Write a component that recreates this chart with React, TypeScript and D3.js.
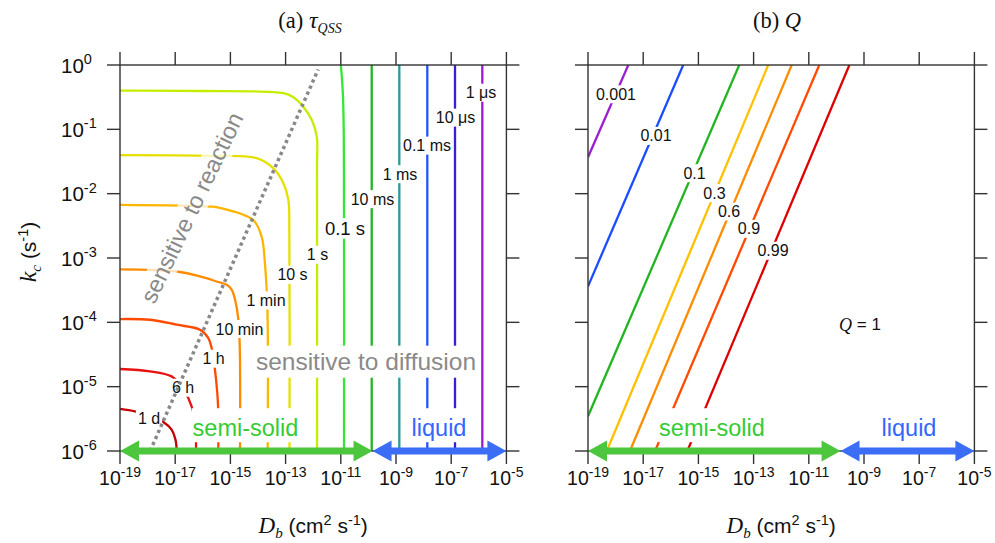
import React from "react";
import * as d3 from "d3";

// ---------- axes ----------
const xTickExps = [-19, -17, -15, -13, -11, -9, -7, -5];
const yTickExps = [0, -1, -2, -3, -4, -5, -6];

// ---------- panel (a): tau_QSS contours, points [log10 Db, log10 kc] ----------
const tau1d = [[-19, -5.346], [-18.46, -5.384], [-17.95, -5.45], [-17.43, -5.548], [-17.13, -5.668], [-16.99, -5.823], [-16.946, -6]];
const tau6h = [[-19, -4.725], [-17.91, -4.762], [-17.13, -4.84], [-16.83, -4.969], [-16.525, -5.176], [-16.31, -5.461], [-16.25, -5.8], [-16.246, -6]];
const tau1h = [[-19, -3.949], [-17.91, -3.96], [-16.95, -4.037], [-16.1, -4.115], [-15.8, -4.244], [-15.68, -4.399], [-15.56, -4.736], [-15.475, -5.098], [-15.44, -5.384], [-15.44, -6]];
const tau10min = [[-19, -3.176], [-16.94, -3.21], [-16.1, -3.287], [-15.5, -3.365], [-15.13, -3.416], [-14.95, -3.494], [-14.83, -3.649], [-14.71, -3.96], [-14.66, -4.4], [-14.652, -6]];
const tau1min = [[-19, -2.174], [-15.74, -2.2], [-15.38, -2.22], [-14.18, -2.407], [-13.87, -2.666], [-13.75, -3.079], [-13.66, -3.8], [-13.649, -6]];
const tau10s = [[-19, -1.402], [-15.74, -1.413], [-14.05, -1.449], [-13.45, -1.604], [-13.08, -1.837], [-12.9, -2.096], [-12.865, -2.6], [-12.859, -6]];
const tau1s = [[-19, -0.399], [-16.1, -0.404], [-13.08, -0.439], [-12.73, -0.497], [-12.36, -0.648], [-12.05, -0.854], [-11.87, -1.113], [-11.862, -1.6], [-11.86, -6]];
const tau01s = [[-11.0, 0], [-10.96, -0.2], [-10.92, -0.5], [-10.895, -1.0], [-10.885, -1.8], [-10.884, -6]];
const tau10ms = [[-9.88, 0], [-9.88, -6]];
const tau1ms = [[-8.88, 0], [-8.88, -6]];
const tau01ms = [[-7.866, 0], [-7.866, -6]];
const tau10us = [[-6.862, 0], [-6.862, -6]];
const tau1us = [[-5.873, 0], [-5.873, -6]];

const tauContours = [tau1d, tau6h, tau1h, tau10min, tau1min, tau10s, tau1s, tau01s, tau10ms, tau1ms, tau01ms, tau10us, tau1us];
const tauLabels = ["1 d", "6 h", "1 h", "10 min", "1 min", "10 s", "1 s", "0.1 s", "10 ms", "1 ms", "0.1 ms", "10 \u03bcs", "1 \u03bcs"];
const tauLabelAt = [[-17.949, -5.497], [-16.717, -5.016], [-15.612, -4.565], [-14.67, -4.104], [-13.71, -3.66], [-12.75, -3.261], [-11.844, -2.95], [-10.848, -2.539], [-9.851, -2.085], [-8.855, -1.697], [-7.877, -1.253], [-6.844, -0.818], [-5.92, -0.43]];

// ---------- panel (b): Q contours ----------
const q0001 = [[-19, -1.433], [-17.54, 0]];
const q001 = [[-19, -3.44], [-15.55, 0]];
const q01 = [[-19, -5.46], [-13.52, 0]];
const q03 = [[-18.32, -6], [-12.47, 0]];
const q06 = [[-17.48, -6], [-11.62, 0]];
const q09 = [[-16.57, -6], [-10.62, 0]];
const q099 = [[-15.4, -6], [-9.53, 0]];
const qContours = [q0001, q001, q01, q03, q06, q09, q099];
const qLabels = ["0.001", "0.01", "0.1", "0.3", "0.6", "0.9", "0.99"];
const qLabelAt = [[-17.986, -0.455], [-16.536, -1.102], [-15.141, -1.682], [-14.417, -1.992], [-13.891, -2.278], [-13.167, -2.547], [-12.297, -2.888]];

// regime line and regimes
const reactionLine = [[-17.91, -6], [-11.82, -0.07]];
const semiSolidRange = [-19, -9.85];
const liquidRange = [-9.85, -5];

// ---------- styles ----------
const SANS = "'Liberation Sans', Arial, Helvetica, sans-serif";
const SERIF = "'Liberation Serif', 'Times New Roman', Times, serif";
const tauColors = ["#c40000", "#e81212", "#ff4a00", "#ff8c00", "#ffb400", "#e6e000", "#c4ee00", "#36e636", "#22b422", "#2a9a9a", "#2255ff", "#3a1fd0", "#9b19d6"];
const tauLabelSize = [16, 16, 16, 16, 16, 16, 16, 18.5, 16, 16, 16, 16, 16];
const qColors = ["#9a1fd0", "#1a4dff", "#22b422", "#ffc000", "#ff8c00", "#ff4a00", "#dd0000"];
const GREEN = "#4cc63c";
const GREEN_TXT = "#33cc33";
const BLUE = "#3b6ef5";
const BLUE_TXT = "#3366ff";
const GRAY = "#8a8a8a";
const AXIS = "#333";

let _canvas: HTMLCanvasElement | null = null;
function measure(text: string, size: number, family = SANS) {
  try {
    if (!_canvas) _canvas = document.createElement("canvas");
    const ctx = _canvas.getContext("2d")!;
    ctx.font = `${size}px ${family}`;
    return ctx.measureText(text).width;
  } catch (e) {
    return text.length * size * 0.55;
  }
}

const P = (v: number) => Math.pow(10, v);

function Arrow({ x1, x2, y, color }: { x1: number; x2: number; y: number; color: string }) {
  const hl = 19, hw = 10.5, sw = 3.5;
  const d = `M${x1},${y} L${x1 + hl},${y - hw} L${x1 + hl},${y - sw} L${x2 - hl},${y - sw} L${x2 - hl},${y - hw} L${x2},${y} L${x2 - hl},${y + hw} L${x2 - hl},${y + sw} L${x1 + hl},${y + sw} L${x1 + hl},${y + hw} Z`;
  return <path d={d} fill={color} />;
}

function Frame({ x, y, showY }: { x: any; y: any; showY: boolean }) {
  const [x0, x1] = x.range();
  const [y0, y1] = y.range();
  const tl = 13;
  return (
    <g>
      <rect x={x0} y={y0} width={x1 - x0} height={y1 - y0} fill="none" stroke={AXIS} strokeWidth={1.4} />
      {xTickExps.map((e) => {
        const xx = x(P(e));
        return (
          <g key={"xt" + e}>
            <line x1={xx} x2={xx} y1={y0} y2={y0 - tl} stroke={AXIS} strokeWidth={1.4} />
            <line x1={xx} x2={xx} y1={y1} y2={y1 + tl} stroke={AXIS} strokeWidth={1.4} />
            <text x={xx} y={485} textAnchor="middle" fontFamily={SANS} fontSize={19.5} fill="#111">
              10<tspan dy={-8} fontSize={14}>{String(e)}</tspan>
            </text>
          </g>
        );
      })}
      {yTickExps.map((e) => {
        const yy = y(P(e));
        return (
          <g key={"yt" + e}>
            <line x1={x0 - tl} x2={x0} y1={yy} y2={yy} stroke={AXIS} strokeWidth={1.4} />
            <line x1={x1} x2={x1 + tl} y1={yy} y2={yy} stroke={AXIS} strokeWidth={1.4} />
            {showY && (
              <text x={61} y={yy + 7.5} textAnchor="start" fontFamily={SANS} fontSize={20.5} fill="#111">
                10<tspan dy={-8.5} fontSize={14.5}>{String(e)}</tspan>
              </text>
            )}
          </g>
        );
      })}
      <text x={(x0 + x1) / 2} y={533} textAnchor="middle" fontFamily={SANS} fontSize={21} fill="#111">
        <tspan fontFamily={SERIF} fontStyle="italic" fontSize={23}>D</tspan>
        <tspan fontFamily={SERIF} fontStyle="italic" fontSize={15} dy={5}>b</tspan>
        <tspan dy={-5}> (cm</tspan>
        <tspan dy={-8.5} fontSize={14.5}>2</tspan>
        <tspan dy={8.5}> s</tspan>
        <tspan dy={-8.5} fontSize={14.5}>-1</tspan>
        <tspan dy={8.5}>)</tspan>
      </text>
    </g>
  );
}

function BgLabel({ cx, cy, text, size, color = "#111", pad = 2 }: any) {
  const w = measure(text, size);
  return (
    <g>
      <rect x={cx - w / 2 - pad} y={cy - size / 2 - 1} width={w + 2 * pad} height={size + 2} fill="#fff" />
      <text x={cx} y={cy} textAnchor="middle" dominantBaseline="central" fontFamily={SANS} fontSize={size} fill={color}>
        {text}
      </text>
    </g>
  );
}

function RegimeText({ cx, base, text, color, size = 23.5 }: any) {
  const w = measure(text, size);
  return (
    <g>
      <rect x={cx - w / 2 - 1} y={base - 28} width={w + 2} height={34} fill="#fff" />
      <text x={cx} y={base} textAnchor="middle" fontFamily={SANS} fontSize={size} fill={color}>
        {text}
      </text>
    </g>
  );
}

export default function App() {
  const xA = d3.scaleLog().domain([1e-19, 1e-5]).range([120, 506.4]);
  const xB = d3.scaleLog().domain([1e-19, 1e-5]).range([588, 974.4]);
  const y = d3.scaleLog().domain([1, 1e-6]).range([65, 451]);

  const mkLine = (xs: any, curved: boolean) =>
    d3
      .line<number[]>()
      .x((d) => xs(P(d[0])))
      .y((d) => y(P(d[1])))
      .curve(curved ? d3.curveCatmullRom.alpha(0.5) : d3.curveLinear);

  const lineA = mkLine(xA, true);
  const lineAlin = mkLine(xA, false);
  const lineB = mkLine(xB, false);
  const yB = y(P(-6));

  // rotated label
  const rotText = "sensitive to reaction";
  const rotSize = 23.5;
  const rotW = measure(rotText, rotSize);
  const rx = xA(P(-16.391));
  const ry = y(P(-2.22));

  const diffText = "sensitive to diffusion";
  const diffSize = 24.5;
  const diffW = measure(diffText, diffSize);
  const dx = xA(P(-10.087));
  const dyb = y(P(-4.736));

  return (
    <svg width={995} height={543} style={{ position: "absolute", left: 0, top: 0, background: "#fff" }}>
      <defs>
        <clipPath id="clipA">
          <rect x={120} y={65} width={386.4} height={386} />
        </clipPath>
        <clipPath id="clipB">
          <rect x={588} y={65} width={386.4} height={386} />
        </clipPath>
      </defs>
      <rect x={0} y={0} width={995} height={543} fill="#fff" />

      {/* titles */}
      <text x={310} y={28} textAnchor="middle" fontFamily={SERIF} fontSize={22.5} fill="#111">
        (a) <tspan fontStyle="italic" fontSize={24}>{"\u03c4"}</tspan>
        <tspan fontStyle="italic" fontSize={14} dy={5}>QSS</tspan>
      </text>
      <text x={777} y={28} textAnchor="middle" fontFamily={SERIF} fontSize={22.5} fill="#111">
        (b) <tspan fontStyle="italic">Q</tspan>
      </text>

      {/* y axis title */}
      <text transform="translate(36,252) rotate(-90)" textAnchor="middle" fontFamily={SANS} fontSize={21} fill="#111">
        <tspan fontFamily={SERIF} fontStyle="italic" fontSize={24}>k</tspan>
        <tspan fontFamily={SERIF} fontStyle="italic" fontSize={15} dy={5}>c</tspan>
        <tspan dy={-5}> (s</tspan>
        <tspan dy={-8.5} fontSize={14.5}>-1</tspan>
        <tspan dy={8.5}>)</tspan>
      </text>

      {/* ---------------- panel (a) ---------------- */}
      <g clipPath="url(#clipA)">
        {tauContours.map((c, i) => (
          <path key={"tc" + i} d={lineA(c as any) || ""} fill="none" stroke={tauColors[i]} strokeWidth={2.3} />
        ))}
      </g>
      <g transform={`translate(${rx},${ry}) rotate(-64.5)`}>
        <rect x={-rotW / 2 - 4} y={-14} width={rotW + 8} height={28} fill="#fff" opacity={0.72} />
      </g>
      <rect x={dx - diffW / 2 - 2} y={dyb - 24} width={diffW + 4} height={32} fill="#fff" />
      <RegimeText cx={xA(P(-14.453))} base={y(P(-5.77))} text="semi-solid" color={GREEN_TXT} />
      <RegimeText cx={xA(P(-7.442))} base={y(P(-5.77))} text="liquid" color={BLUE_TXT} />
      {tauLabels.map((t, i) => (
        <BgLabel key={"tl" + i} cx={xA(P(tauLabelAt[i][0]))} cy={y(P(tauLabelAt[i][1]))} text={t} size={tauLabelSize[i]} />
      ))}
      <path d={lineAlin(reactionLine as any) || ""} fill="none" stroke="#888" strokeWidth={3.5} strokeDasharray="3.3,3.3" />
      <text
        transform={`translate(${rx},${ry}) rotate(-64.5)`}
        textAnchor="middle"
        dominantBaseline="central"
        fontFamily={SANS}
        fontSize={rotSize}
        fill={GRAY}
      >
        {rotText}
      </text>
      <text x={dx} y={dyb} textAnchor="middle" fontFamily={SANS} fontSize={diffSize} fill={GRAY}>
        {diffText}
      </text>
      <Frame x={xA} y={y} showY={true} />
      <Arrow x1={xA(P(semiSolidRange[0]))} x2={xA(P(semiSolidRange[1]))} y={yB} color={GREEN} />
      <Arrow x1={xA(P(liquidRange[0]))} x2={xA(P(liquidRange[1]))} y={yB} color={BLUE} />

      {/* ---------------- panel (b) ---------------- */}
      <g clipPath="url(#clipB)">
        {qContours.map((c, i) => (
          <path key={"qc" + i} d={lineB(c as any) || ""} fill="none" stroke={qColors[i]} strokeWidth={2.3} />
        ))}
      </g>
      <RegimeText cx={xB(P(-14.507))} base={y(P(-5.77))} text="semi-solid" color={GREEN_TXT} />
      <RegimeText cx={xB(P(-7.37))} base={y(P(-5.77))} text="liquid" color={BLUE_TXT} />
      {qLabels.map((t, i) => (
        <BgLabel key={"ql" + i} cx={xB(P(qLabelAt[i][0]))} cy={y(P(qLabelAt[i][1]))} text={t} size={16} />
      ))}
      <text x={xB(P(-9.145))} y={y(P(-4.037))} textAnchor="middle" dominantBaseline="central" fontFamily={SANS} fontSize={17} fill="#111">
        <tspan fontFamily={SERIF} fontStyle="italic" fontSize={18}>Q</tspan> = 1
      </text>
      <Frame x={xB} y={y} showY={false} />
      <Arrow x1={xB(P(semiSolidRange[0]))} x2={xB(P(semiSolidRange[1]))} y={yB} color={GREEN} />
      <Arrow x1={xB(P(liquidRange[0]))} x2={xB(P(liquidRange[1]))} y={yB} color={BLUE} />
    </svg>
  );
}
